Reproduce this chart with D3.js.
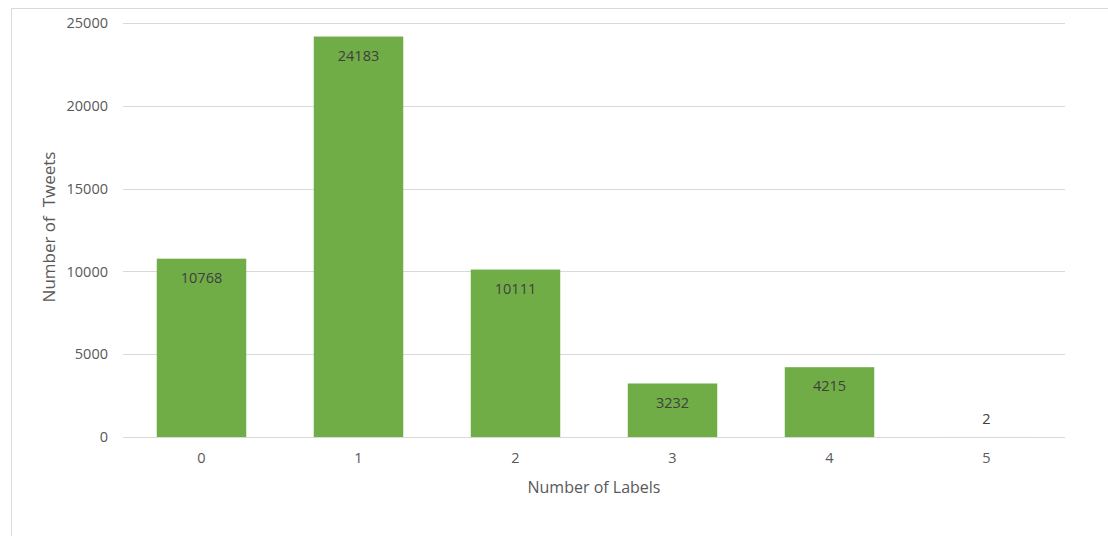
<!DOCTYPE html>
<html><head><meta charset="utf-8">
<script src="https://cdn.jsdelivr.net/npm/d3@7"></script>
<style>
html,body{margin:0;padding:0;background:#fff;}
svg{display:block;font-family:"Open Sans",sans-serif;}
</style></head>
<body>
<svg id="chart" width="1108" height="536"></svg>
<script>
const categories = ["0","1","2","3","4","5"];
const values = [10768, 24183, 10111, 3232, 4215, 2];
const yTicks = [0, 5000, 10000, 15000, 20000, 25000];

const svg = d3.select("#chart");
const W = 1108, H = 536;
const m = {left:123, right:1065, top:23, bottom:437};

// outer frame
svg.append("path").attr("d", `M11.5,${H} V8.5 H${W}`).attr("fill","none").attr("stroke","#d9d9d9").attr("stroke-width",1);

const x = d3.scaleBand().domain(categories).range([m.left, m.right]).paddingInner(0.43).paddingOuter(0.215);
const y = d3.scaleLinear().domain([0, 25000]).range([m.bottom, m.top]);

// gridlines
svg.append("g").selectAll("line").data(yTicks).join("line")
  .attr("x1", m.left).attr("x2", m.right)
  .attr("y1", d => Math.round(y(d))+0.5).attr("y2", d => Math.round(y(d))+0.5)
  .attr("stroke","#d9d9d9").attr("stroke-width",1);

// y axis labels
const yAxis = d3.axisLeft(y).tickValues(yTicks).tickSize(0).tickPadding(15).tickFormat(d3.format("d"));
const gy = svg.append("g").attr("transform",`translate(${m.left},0)`).call(yAxis);
gy.select(".domain").remove();
gy.selectAll("text").attr("fill","#595959").style("font-size","14.5px").style("font-family","Open Sans");

// bars
svg.append("g").selectAll("rect").data(values).join("rect")
  .attr("x", (d,i) => x(categories[i]))
  .attr("width", x.bandwidth())
  .attr("y", d => y(d))
  .attr("height", d => y(0) - y(d))
  .attr("fill", "#70ad47");

// x axis labels
const xAxis = d3.axisBottom(x).tickSize(0).tickPadding(16);
const gx = svg.append("g").attr("transform",`translate(0,${m.bottom})`).call(xAxis);
gx.select(".domain").remove();
gx.selectAll("text").attr("fill","#595959").style("font-size","14.5px").style("font-family","Open Sans");

// data labels
svg.append("g").selectAll("text").data(values).join("text")
  .attr("x", (d,i) => x(categories[i]) + x.bandwidth()/2)
  .attr("y", d => (y(0)-y(d) > 25) ? y(d) + 19 : y(d) - 18)
  .attr("dy","0.35em")
  .attr("text-anchor","middle")
  .attr("fill","#404040")
  .style("font-size","14.5px")
  .text(d => d);

// axis titles
svg.append("text").attr("x", 594).attr("y", 487).attr("dy","0.35em")
  .attr("text-anchor","middle").attr("fill","#595959").style("font-size","16px").text("Number of Labels");
svg.append("text").attr("transform", `translate(49,227) rotate(-90)`).attr("dy","0.35em")
  .attr("text-anchor","middle").attr("fill","#595959").style("font-size","17px")
  .style("white-space","pre").text("Number of  Tweets");
</script>
</body></html>
